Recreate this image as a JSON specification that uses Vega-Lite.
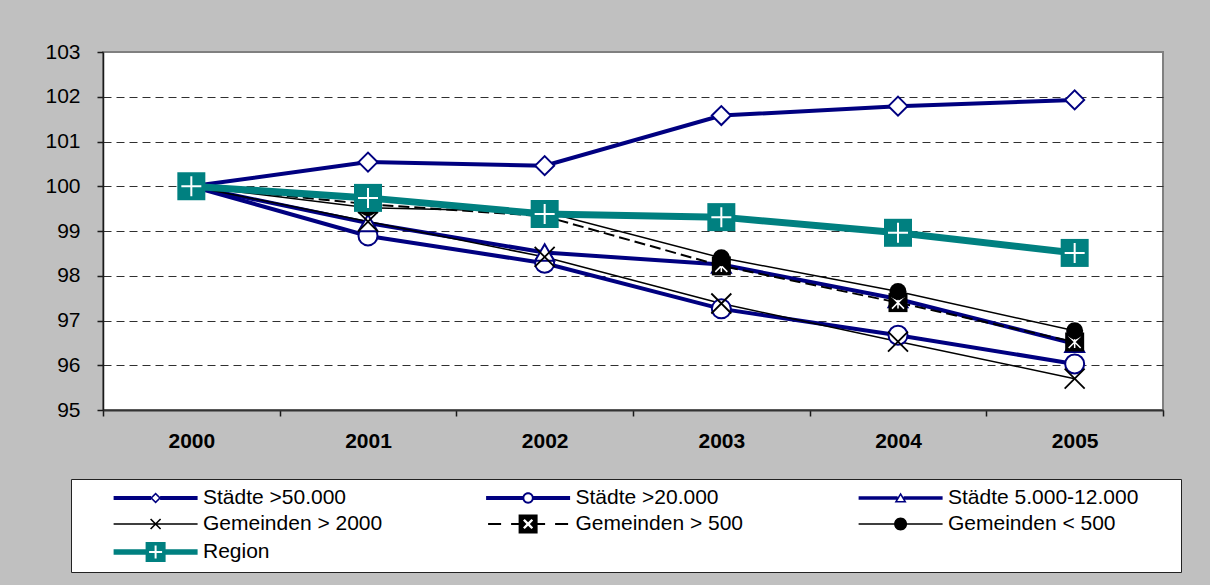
{
  "$schema": "https://vega.github.io/schema/vega-lite/v6.json",
  "width": 1060,
  "height": 358,
  "autosize": {"type": "none"},
  "padding": {"left": 103, "top": 52, "right": 47, "bottom": 175},
  "background": "#c0c0c0",
  "config": {
    "font": "Liberation Sans",
    "view": {"fill": "white", "stroke": "#808080", "strokeWidth": 2},
    "axis": {
      "title": null,
      "labelFont": "Liberation Sans",
      "labelFontSize": 21,
      "labelColor": "black",
      "domainColor": "#1a1a1a",
      "domainWidth": 1.5,
      "tickColor": "#1a1a1a",
      "tickWidth": 1.5,
      "tickSize": 6
    }
  },
  "data": {
    "values": [
      {"year": "2000", "series": "Städte >50.000", "value": 100},
      {"year": "2001", "series": "Städte >50.000", "value": 100.54},
      {"year": "2002", "series": "Städte >50.000", "value": 100.46},
      {"year": "2003", "series": "Städte >50.000", "value": 101.58},
      {"year": "2004", "series": "Städte >50.000", "value": 101.79},
      {"year": "2005", "series": "Städte >50.000", "value": 101.93},
      {"year": "2000", "series": "Städte >20.000", "value": 100},
      {"year": "2001", "series": "Städte >20.000", "value": 98.89},
      {"year": "2002", "series": "Städte >20.000", "value": 98.28},
      {"year": "2003", "series": "Städte >20.000", "value": 97.26},
      {"year": "2004", "series": "Städte >20.000", "value": 96.67},
      {"year": "2005", "series": "Städte >20.000", "value": 96.03},
      {"year": "2000", "series": "Städte 5.000-12.000", "value": 100},
      {"year": "2001", "series": "Städte 5.000-12.000", "value": 99.18},
      {"year": "2002", "series": "Städte 5.000-12.000", "value": 98.52},
      {"year": "2003", "series": "Städte 5.000-12.000", "value": 98.25},
      {"year": "2004", "series": "Städte 5.000-12.000", "value": 97.48},
      {"year": "2005", "series": "Städte 5.000-12.000", "value": 96.48},
      {"year": "2000", "series": "Gemeinden > 2000", "value": 100},
      {"year": "2001", "series": "Gemeinden > 2000", "value": 99.21},
      {"year": "2002", "series": "Gemeinden > 2000", "value": 98.42},
      {"year": "2003", "series": "Gemeinden > 2000", "value": 97.38},
      {"year": "2004", "series": "Gemeinden > 2000", "value": 96.53},
      {"year": "2005", "series": "Gemeinden > 2000", "value": 95.7},
      {"year": "2000", "series": "Gemeinden > 500", "value": 100},
      {"year": "2001", "series": "Gemeinden > 500", "value": 99.6},
      {"year": "2002", "series": "Gemeinden > 500", "value": 99.33},
      {"year": "2003", "series": "Gemeinden > 500", "value": 98.22},
      {"year": "2004", "series": "Gemeinden > 500", "value": 97.4},
      {"year": "2005", "series": "Gemeinden > 500", "value": 96.52},
      {"year": "2000", "series": "Gemeinden < 500", "value": 100},
      {"year": "2001", "series": "Gemeinden < 500", "value": 99.52},
      {"year": "2002", "series": "Gemeinden < 500", "value": 99.43},
      {"year": "2003", "series": "Gemeinden < 500", "value": 98.4},
      {"year": "2004", "series": "Gemeinden < 500", "value": 97.65},
      {"year": "2005", "series": "Gemeinden < 500", "value": 96.77},
      {"year": "2000", "series": "Region", "value": 100},
      {"year": "2001", "series": "Region", "value": 99.74},
      {"year": "2002", "series": "Region", "value": 99.38},
      {"year": "2003", "series": "Region", "value": 99.31},
      {"year": "2004", "series": "Region", "value": 98.96},
      {"year": "2005", "series": "Region", "value": 98.51}
    ]
  },
  "encoding": {
    "x": {
      "field": "year",
      "type": "ordinal",
      "scale": {"type": "band", "paddingInner": 0, "paddingOuter": 0},
      "axis": {
        "tickBand": "extent",
        "labelAngle": 0,
        "labelFontWeight": "bold",
        "labelPadding": 14,
        "domainColor": "#333333",
        "domainWidth": 2
      }
    },
    "y": {
      "field": "value",
      "type": "quantitative",
      "scale": {"domain": [95, 103], "nice": false, "zero": false},
      "axis": {
        "values": [95, 96, 97, 98, 99, 100, 101, 102, 103],
        "labelPadding": 17,
        "grid": true,
        "gridDash": [8, 5],
        "gridColor": "#303030",
        "gridWidth": 1,
        "gridOpacity": {"condition": {"test": "datum.value === 103", "value": 0}, "value": 1}
      }
    }
  },
  "layer": [
    {
      "transform": [{"filter": "false"}],
      "mark": {
        "type": "point",
        "filled": true,
        "opacity": 1,
        "strokeWidth": 1.6,
        "fill": {"expr": "['#000080','#000080','#000080','black','black','black','#008080'][indexof(['Städte >50.000','Städte >20.000','Städte 5.000-12.000','Gemeinden > 2000','Gemeinden > 500','Gemeinden < 500','Region'], datum.value)]"}
      },
      "encoding": {
        "size": {
          "field": "series",
          "type": "ordinal",
          "scale": {
            "type": "ordinal",
            "domain": ["Städte >50.000", "Städte >20.000", "Städte 5.000-12.000", "Gemeinden > 2000", "Gemeinden > 500", "Gemeinden < 500", "Region"],
            "range": [400, 400, 400, 400, 400, 400, 400]
          },
          "legend": {
            "orient": "none",
            "legendX": -32,
            "legendY": 427,
            "direction": "horizontal",
            "columns": 3,
            "gridAlign": "all",
            "columnPadding": 55.5,
            "rowPadding": 0,
            "padding": 6,
            "fillColor": "white",
            "strokeColor": "#222222",
            "title": "\u00a0",
            "titleOrient": "right",
            "titleFontSize": 8,
            "titlePadding": 37,
            "symbolOpacity": 1,
            "symbolStrokeWidth": 1.6,
            "symbolStrokeColor": "transparent",
            "symbolOffset": 67.6,
            "labelOffset": 36.4,
            "labelFont": "Liberation Sans",
            "labelFontSize": 21,
            "labelColor": "black",
            "labelLimit": 400,
            "symbolType": {"expr": "['M-4.2,-0.2H-0.45V0.2H-4.2ZM0.45,-0.2H4.2V0.2H0.45ZM0,-0.55L0.55,0L0,0.55L-0.55,0ZM0,-0.33L-0.33,0L0,0.33L0.33,0Z','M-4.2,-0.2H-0.45V0.2H-4.2ZM0.45,-0.2H4.2V0.2H0.45ZM0.57,0A0.57,0.57 0 1,1 -0.57,0A0.57,0.57 0 1,1 0.57,0ZM0.38,0A0.38,0.38 0 1,0 -0.38,0A0.38,0.38 0 1,0 0.38,0Z','M-4.2,-0.18H-0.3V0.18H-4.2ZM0.3,-0.18H4.2V0.18H0.3ZM0,-0.55L0.6,0.45H-0.6ZM0,-0.25L-0.33,0.3H0.33Z','M-4.2,-0.075H4.2V0.075H-4.2ZM-0.443,-0.557L0.557,0.443L0.443,0.557L-0.557,-0.443ZM-0.557,0.443L0.443,-0.557L0.557,-0.443L-0.443,0.557Z','M-4,-0.09H-2.7V0.09H-4ZM-1.7,-0.09H-0.8V0.09H-1.7ZM0.8,-0.09H1.7V0.09H0.8ZM2.7,-0.09H4V0.09H2.7ZM-0.95,-0.95H0.95V0.95H-0.95ZM0.339,-0.509L0,-0.17L-0.339,-0.509L-0.509,-0.339L-0.17,0L-0.509,0.339L-0.339,0.509L0,0.17L0.339,0.509L0.509,0.339L0.17,0L0.509,-0.339Z','M-4.2,-0.075H4.2V0.075H-4.2ZM0.65,0A0.65,0.65 0 1,1 -0.65,0A0.65,0.65 0 1,1 0.65,0Z','M-4.2,-0.28H-1V0.28H-4.2ZM1,-0.28H4.2V0.28H1ZM-1,-1H1V1H-1ZM-0.1,-0.65L-0.1,-0.1L-0.65,-0.1L-0.65,0.1L-0.1,0.1L-0.1,0.65L0.1,0.65L0.1,0.1L0.65,0.1L0.65,-0.1L0.1,-0.1L0.1,-0.65Z'][indexof(['Städte >50.000','Städte >20.000','Städte 5.000-12.000','Gemeinden > 2000','Gemeinden > 500','Gemeinden < 500','Region'], datum.value)]"}
          }
        }
      }
    },
    {
      "transform": [{"filter": {"field": "series", "oneOf": ["Städte >50.000", "Städte >20.000", "Städte 5.000-12.000"]}}],
      "mark": {"type": "line", "stroke": "#000080", "strokeWidth": 4, "strokeCap": "butt"},
      "encoding": {"detail": {"field": "series", "type": "nominal"}}
    },
    {
      "transform": [{"filter": {"field": "series", "oneOf": ["Gemeinden > 2000", "Gemeinden < 500"]}}],
      "mark": {"type": "line", "stroke": "black", "strokeWidth": 1.5},
      "encoding": {"detail": {"field": "series", "type": "nominal"}}
    },
    {
      "transform": [{"filter": "datum.series === 'Gemeinden > 500'"}],
      "mark": {"type": "line", "stroke": "black", "strokeWidth": 2, "strokeDash": [11, 5]},
      "encoding": {}
    },
    {
      "transform": [{"filter": "datum.series === 'Städte >50.000'"}],
      "mark": {"type": "point", "shape": "diamond", "size": 361, "fill": "white", "stroke": "#000080", "strokeWidth": 2, "opacity": 1}
    },
    {
      "transform": [{"filter": "datum.series === 'Städte >20.000'"}],
      "mark": {"type": "point", "shape": "circle", "size": 361, "fill": "white", "stroke": "#000080", "strokeWidth": 2, "opacity": 1}
    },
    {
      "transform": [{"filter": "datum.series === 'Städte 5.000-12.000'"}],
      "mark": {"type": "point", "shape": "triangle-up", "size": 361, "fill": "white", "stroke": "#000080", "strokeWidth": 2, "opacity": 1}
    },
    {
      "transform": [{"filter": "datum.series === 'Gemeinden > 2000'"}],
      "mark": {"type": "point", "shape": "M-1,-1L1,1M-1,1L1,-1", "size": 400, "fill": "transparent", "stroke": "black", "strokeWidth": 1.8, "opacity": 1}
    },
    {
      "transform": [{"filter": "datum.series === 'Gemeinden > 500'"}],
      "mark": {"type": "point", "shape": "square", "size": 361, "fill": "black", "strokeWidth": 0, "opacity": 1}
    },
    {
      "transform": [{"filter": "datum.series === 'Gemeinden > 500'"}],
      "mark": {"type": "point", "shape": "M-1,-1L1,1M-1,1L1,-1M0,-1V1", "size": 144, "stroke": "white", "strokeWidth": 1.5, "fill": "transparent", "opacity": 1}
    },
    {
      "transform": [{"filter": "datum.series === 'Gemeinden < 500'"}],
      "mark": {"type": "point", "shape": "circle", "size": 289, "fill": "black", "strokeWidth": 0, "opacity": 1}
    },
    {
      "transform": [{"filter": "datum.series === 'Region'"}],
      "mark": {"type": "line", "stroke": "#008080", "strokeWidth": 7, "strokeCap": "butt"},
      "encoding": {}
    },
    {
      "transform": [{"filter": "datum.series === 'Region'"}],
      "mark": {"type": "point", "shape": "square", "size": 784, "fill": "#008080", "strokeWidth": 0, "opacity": 1}
    },
    {
      "transform": [{"filter": "datum.series === 'Region'"}],
      "mark": {"type": "point", "shape": "M-1,0H1M0,-1V1", "size": 400, "stroke": "white", "strokeWidth": 2, "fill": "transparent", "opacity": 1}
    },
    {
      "data": {"values": [{"note": "Index 2000=100"}]},
      "mark": {"type": "text", "align": "center", "baseline": "alphabetic", "dx": 9, "dy": -14, "fontSize": 21, "font": "Liberation Sans", "color": "black"},
      "encoding": {
        "x": {"datum": "2000", "type": "ordinal"},
        "y": {"datum": 95, "type": "quantitative"},
        "text": {"field": "note"}
      }
    }
  ]
}
